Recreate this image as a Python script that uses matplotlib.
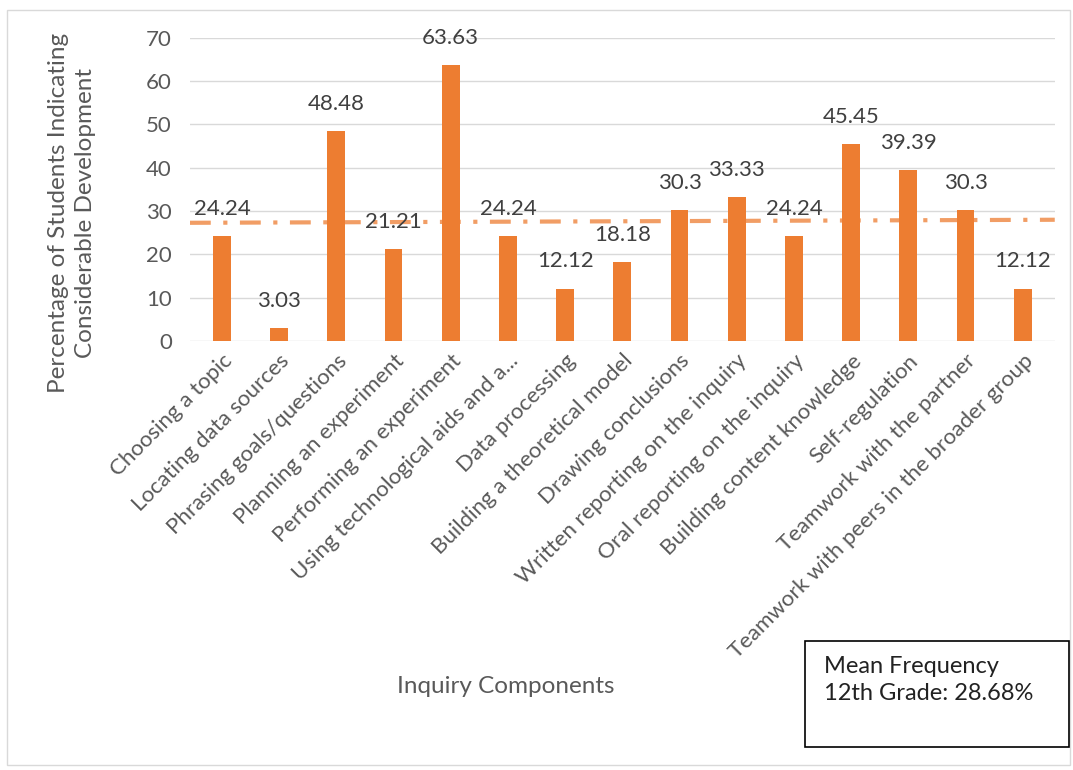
import numpy as np
import matplotlib
matplotlib.use("Agg")
import matplotlib.pyplot as plt
from matplotlib.patches import Rectangle

plt.rcParams['font.family'] = ['Lato', 'DejaVu Sans']

##### data
components = ["Choosing a topic", "Locating data sources", "Phrasing goals/questions",
              "Planning an experiment", "Performing an experiment",
              "Using technological aids and a...", "Data processing",
              "Building a theoretical model", "Drawing conclusions",
              "Written reporting on the inquiry", "Oral reporting on the inquiry",
              "Building content knowledge", "Self-regulation",
              "Teamwork with the partner", "Teamwork with peers in the broader group"]
percent = [24.24, 3.03, 48.48, 21.21, 63.63, 24.24, 12.12, 18.18,
           30.3, 33.33, 24.24, 45.45, 39.39, 30.3, 12.12]
value_labels = ["24.24", "3.03", "48.48", "21.21", "63.63", "24.24", "12.12", "18.18",
                "30.3", "33.33", "24.24", "45.45", "39.39", "30.3", "12.12"]
mean_line = [27.3, 28.0]   # drawn mean line, start / end (slightly tilted in the original)
yticks = [0, 10, 20, 30, 40, 50, 60, 70]

orange = "#ed7d31"
grey_txt = "#595959"

fig = plt.figure(figsize=(10.73, 7.70), dpi=100)
ax = fig.add_axes([0.177, 0.557, 0.806, 0.394])

x = np.arange(len(components))
ax.bar(x, percent, width=0.31, color=orange, zorder=2)

for xi, v, lab in zip(x, percent, value_labels):
    ax.annotate(lab, (xi, v), xytext=(0, 19.5), textcoords="offset points",
                ha="center", va="center", fontsize=16, color="#404040", zorder=4)

ax.plot([-0.56, 14.56], mean_line, color=orange, alpha=0.75, lw=3,
        dashes=(5, 3, 1, 3), zorder=3)

ax.set_xlim(-0.56, 14.56)
ax.set_ylim(0, 70)
ax.set_yticks(yticks)
ax.grid(axis="y", color="#d9d9d9", lw=1, zorder=0)
for s in ax.spines.values():
    s.set_visible(False)
ax.tick_params(axis="both", length=0, colors=grey_txt, labelsize=16)
ax.tick_params(axis="y", pad=13)
ax.tick_params(axis="x", pad=7)
ax.set_xticks(x)
ax.set_xticklabels(components, rotation=45, ha="right", rotation_mode="anchor")

fig.text(0.067, 0.723, "Percentage of Students Indicating\nConsiderable Development",
         rotation=90, ha="center", va="center", fontsize=17.5, color=grey_txt,
         linespacing=1.35)
fig.text(0.471, 0.108, "Inquiry Components", ha="center", va="center",
         fontsize=17.5, color=grey_txt)

# outer chart border and note box
fig.patches.append(Rectangle((0.0065, 0.0065), 0.991, 0.981, transform=fig.transFigure,
                             fill=False, edgecolor="#d9d9d9", lw=1))
fig.patches.append(Rectangle((0.750, 0.030), 0.246, 0.138, transform=fig.transFigure,
                             fill=False, edgecolor="black", lw=1.2))
fig.text(0.768, 0.117, "Mean Frequency\n12th Grade: 28.68%", ha="left", va="center",
         fontsize=17, color="#222222", linespacing=1.4)

fig.savefig("out.png", dpi=100)
